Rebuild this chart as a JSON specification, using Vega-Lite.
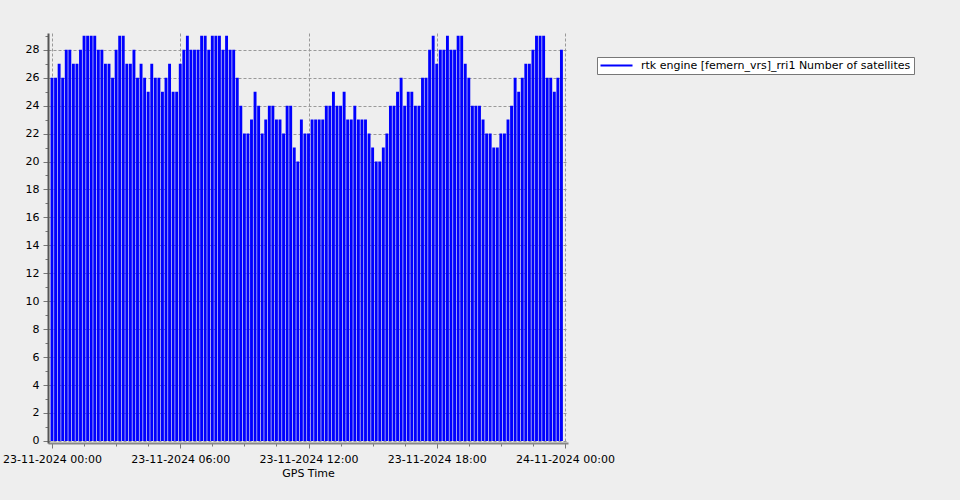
{
  "$schema": "https://vega.github.io/schema/vega-lite/v6.json",
  "width": 520,
  "height": 410,
  "autosize": {"type": "none"},
  "padding": {"left": 48, "top": 33, "right": 392, "bottom": 57},
  "background": "#eeeeee",
  "config": {"view": {"stroke": null}, "font": "DejaVu Sans"},
  "data": {"values": [
    {"t":"2024-11-23T00:00","n":26},{"t":"2024-11-23T00:10","n":26},{"t":"2024-11-23T00:20","n":27},{"t":"2024-11-23T00:30","n":26},{"t":"2024-11-23T00:40","n":28},{"t":"2024-11-23T00:50","n":28},
    {"t":"2024-11-23T01:00","n":27},{"t":"2024-11-23T01:10","n":27},{"t":"2024-11-23T01:20","n":28},{"t":"2024-11-23T01:30","n":29},{"t":"2024-11-23T01:40","n":29},{"t":"2024-11-23T01:50","n":29},
    {"t":"2024-11-23T02:00","n":29},{"t":"2024-11-23T02:10","n":28},{"t":"2024-11-23T02:20","n":28},{"t":"2024-11-23T02:30","n":27},{"t":"2024-11-23T02:40","n":27},{"t":"2024-11-23T02:50","n":26},
    {"t":"2024-11-23T03:00","n":28},{"t":"2024-11-23T03:10","n":29},{"t":"2024-11-23T03:20","n":29},{"t":"2024-11-23T03:30","n":27},{"t":"2024-11-23T03:40","n":27},{"t":"2024-11-23T03:50","n":28},
    {"t":"2024-11-23T04:00","n":26},{"t":"2024-11-23T04:10","n":27},{"t":"2024-11-23T04:20","n":26},{"t":"2024-11-23T04:30","n":25},{"t":"2024-11-23T04:40","n":27},{"t":"2024-11-23T04:50","n":26},
    {"t":"2024-11-23T05:00","n":26},{"t":"2024-11-23T05:10","n":25},{"t":"2024-11-23T05:20","n":26},{"t":"2024-11-23T05:30","n":27},{"t":"2024-11-23T05:40","n":25},{"t":"2024-11-23T05:50","n":25},
    {"t":"2024-11-23T06:00","n":27},{"t":"2024-11-23T06:10","n":28},{"t":"2024-11-23T06:20","n":29},{"t":"2024-11-23T06:30","n":28},{"t":"2024-11-23T06:40","n":28},{"t":"2024-11-23T06:50","n":28},
    {"t":"2024-11-23T07:00","n":29},{"t":"2024-11-23T07:10","n":29},{"t":"2024-11-23T07:20","n":28},{"t":"2024-11-23T07:30","n":29},{"t":"2024-11-23T07:40","n":29},{"t":"2024-11-23T07:50","n":29},
    {"t":"2024-11-23T08:00","n":28},{"t":"2024-11-23T08:10","n":29},{"t":"2024-11-23T08:20","n":28},{"t":"2024-11-23T08:30","n":28},{"t":"2024-11-23T08:40","n":26},{"t":"2024-11-23T08:50","n":24},
    {"t":"2024-11-23T09:00","n":22},{"t":"2024-11-23T09:10","n":22},{"t":"2024-11-23T09:20","n":23},{"t":"2024-11-23T09:30","n":25},{"t":"2024-11-23T09:40","n":24},{"t":"2024-11-23T09:50","n":22},
    {"t":"2024-11-23T10:00","n":23},{"t":"2024-11-23T10:10","n":24},{"t":"2024-11-23T10:20","n":24},{"t":"2024-11-23T10:30","n":23},{"t":"2024-11-23T10:40","n":23},{"t":"2024-11-23T10:50","n":22},
    {"t":"2024-11-23T11:00","n":24},{"t":"2024-11-23T11:10","n":24},{"t":"2024-11-23T11:20","n":21},{"t":"2024-11-23T11:30","n":20},{"t":"2024-11-23T11:40","n":23},{"t":"2024-11-23T11:50","n":22},
    {"t":"2024-11-23T12:00","n":22},{"t":"2024-11-23T12:10","n":23},{"t":"2024-11-23T12:20","n":23},{"t":"2024-11-23T12:30","n":23},{"t":"2024-11-23T12:40","n":23},{"t":"2024-11-23T12:50","n":24},
    {"t":"2024-11-23T13:00","n":24},{"t":"2024-11-23T13:10","n":25},{"t":"2024-11-23T13:20","n":24},{"t":"2024-11-23T13:30","n":24},{"t":"2024-11-23T13:40","n":25},{"t":"2024-11-23T13:50","n":23},
    {"t":"2024-11-23T14:00","n":23},{"t":"2024-11-23T14:10","n":24},{"t":"2024-11-23T14:20","n":23},{"t":"2024-11-23T14:30","n":23},{"t":"2024-11-23T14:40","n":23},{"t":"2024-11-23T14:50","n":22},
    {"t":"2024-11-23T15:00","n":21},{"t":"2024-11-23T15:10","n":20},{"t":"2024-11-23T15:20","n":20},{"t":"2024-11-23T15:30","n":21},{"t":"2024-11-23T15:40","n":22},{"t":"2024-11-23T15:50","n":24},
    {"t":"2024-11-23T16:00","n":24},{"t":"2024-11-23T16:10","n":25},{"t":"2024-11-23T16:20","n":26},{"t":"2024-11-23T16:30","n":24},{"t":"2024-11-23T16:40","n":25},{"t":"2024-11-23T16:50","n":25},
    {"t":"2024-11-23T17:00","n":24},{"t":"2024-11-23T17:10","n":24},{"t":"2024-11-23T17:20","n":26},{"t":"2024-11-23T17:30","n":26},{"t":"2024-11-23T17:40","n":28},{"t":"2024-11-23T17:50","n":29},
    {"t":"2024-11-23T18:00","n":27},{"t":"2024-11-23T18:10","n":28},{"t":"2024-11-23T18:20","n":28},{"t":"2024-11-23T18:30","n":29},{"t":"2024-11-23T18:40","n":28},{"t":"2024-11-23T18:50","n":28},
    {"t":"2024-11-23T19:00","n":29},{"t":"2024-11-23T19:10","n":29},{"t":"2024-11-23T19:20","n":27},{"t":"2024-11-23T19:30","n":26},{"t":"2024-11-23T19:40","n":24},{"t":"2024-11-23T19:50","n":24},
    {"t":"2024-11-23T20:00","n":24},{"t":"2024-11-23T20:10","n":23},{"t":"2024-11-23T20:20","n":22},{"t":"2024-11-23T20:30","n":22},{"t":"2024-11-23T20:40","n":21},{"t":"2024-11-23T20:50","n":21},
    {"t":"2024-11-23T21:00","n":22},{"t":"2024-11-23T21:10","n":22},{"t":"2024-11-23T21:20","n":23},{"t":"2024-11-23T21:30","n":24},{"t":"2024-11-23T21:40","n":26},{"t":"2024-11-23T21:50","n":25},
    {"t":"2024-11-23T22:00","n":26},{"t":"2024-11-23T22:10","n":27},{"t":"2024-11-23T22:20","n":27},{"t":"2024-11-23T22:30","n":28},{"t":"2024-11-23T22:40","n":29},{"t":"2024-11-23T22:50","n":29},
    {"t":"2024-11-23T23:00","n":29},{"t":"2024-11-23T23:10","n":26},{"t":"2024-11-23T23:20","n":26},{"t":"2024-11-23T23:30","n":25},{"t":"2024-11-23T23:40","n":26},{"t":"2024-11-23T23:50","n":28}
  ]},
  "mark": {"type": "bar", "width": 2.9},
  "encoding": {
    "x": {
      "field": "t", "type": "temporal",
      "scale": {"domain": [
        {"year": 2024, "month": 11, "date": 22, "hours": 23, "minutes": 48, "seconds": 46},
        {"year": 2024, "month": 11, "date": 24, "hours": 0, "minutes": 8, "seconds": 25}
      ], "nice": false, "padding": 0},
      "axis": {
        "title": "GPS Time",
        "values": [
          {"year": 2024, "month": 11, "date": 23, "hours": 0, "minutes": 0},
          {"year": 2024, "month": 11, "date": 23, "hours": 1, "minutes": 30},
          {"year": 2024, "month": 11, "date": 23, "hours": 3, "minutes": 0},
          {"year": 2024, "month": 11, "date": 23, "hours": 4, "minutes": 30},
          {"year": 2024, "month": 11, "date": 23, "hours": 6, "minutes": 0},
          {"year": 2024, "month": 11, "date": 23, "hours": 7, "minutes": 30},
          {"year": 2024, "month": 11, "date": 23, "hours": 9, "minutes": 0},
          {"year": 2024, "month": 11, "date": 23, "hours": 10, "minutes": 30},
          {"year": 2024, "month": 11, "date": 23, "hours": 12, "minutes": 0},
          {"year": 2024, "month": 11, "date": 23, "hours": 13, "minutes": 30},
          {"year": 2024, "month": 11, "date": 23, "hours": 15, "minutes": 0},
          {"year": 2024, "month": 11, "date": 23, "hours": 16, "minutes": 30},
          {"year": 2024, "month": 11, "date": 23, "hours": 18, "minutes": 0},
          {"year": 2024, "month": 11, "date": 23, "hours": 19, "minutes": 30},
          {"year": 2024, "month": 11, "date": 23, "hours": 21, "minutes": 0},
          {"year": 2024, "month": 11, "date": 23, "hours": 22, "minutes": 30},
          {"year": 2024, "month": 11, "date": 24, "hours": 0, "minutes": 0}
        ],
        "format": "%d-%m-%Y %H:%M",
        "labelExpr": "(hours(datum.value) % 6 == 0 && minutes(datum.value) == 0) ? datum.label : ''",
        "labelOverlap": false,
        "labelFlush": false,
        "labelFont": "DejaVu Sans",
        "labelFontSize": 11,
        "labelColor": "#000000",
        "labelPadding": 5,
        "tickSize": {"condition": {"test": "hours(datum.value) % 6 == 0 && minutes(datum.value) == 0", "value": 5}, "value": 3},
        "tickColor": "#777777",
        "grid": true,
        "gridDash": [3, 2],
        "gridColor": "#999999",
        "gridOpacity": {"condition": {"test": "hours(datum.value) % 6 == 0 && minutes(datum.value) == 0", "value": 1}, "value": 0},
        "domainColor": "#888888",
        "domainWidth": 2,
        "titleFont": "DejaVu Sans",
        "titleFontSize": 11,
        "titleFontWeight": "normal",
        "titleColor": "#000000",
        "titlePadding": 3
      }
    },
    "y": {
      "field": "n", "type": "quantitative",
      "scale": {"domain": [-0.15, 29.2], "nice": false, "zero": false},
      "axis": {
        "title": null,
        "values": [0,0.5,1,1.5,2,2.5,3,3.5,4,4.5,5,5.5,6,6.5,7,7.5,8,8.5,9,9.5,10,10.5,11,11.5,12,12.5,13,13.5,14,14.5,15,15.5,16,16.5,17,17.5,18,18.5,19,19.5,20,20.5,21,21.5,22,22.5,23,23.5,24,24.5,25,25.5,26,26.5,27,27.5,28,28.5,29],
        "format": "d",
        "labelExpr": "datum.value % 2 == 0 ? datum.label : ''",
        "labelOverlap": false,
        "labelFont": "DejaVu Sans",
        "labelFontSize": 11,
        "labelColor": "#000000",
        "labelPadding": 4,
        "tickSize": {"condition": {"test": "datum.value % 2 == 0", "value": 5}, "value": 3},
        "tickColor": "#777777",
        "grid": true,
        "gridDash": [3, 2],
        "gridColor": "#999999",
        "gridOpacity": {"condition": {"test": "datum.value % 2 == 0", "value": 1}, "value": 0},
        "domainColor": "#555555",
        "domainWidth": 2
      }
    },
    "color": {
      "datum": "rtk engine [femern_vrs]_rri1 Number of satellites",
      "scale": {"range": ["#0000ff"]},
      "legend": {
        "orient": "none",
        "legendX": 549,
        "legendY": 24,
        "title": null,
        "fillColor": "#ffffff",
        "strokeColor": "#777777",
        "padding": 3,
        "symbolType": "M-4,0H4",
        "symbolSize": 64,
        "symbolStrokeWidth": 2,
        "symbolStrokeColor": "#0000ff",
        "symbolOffset": 11,
        "labelOffset": 19,
        "labelLimit": 0,
        "labelFont": "DejaVu Sans",
        "labelFontSize": 11,
        "labelColor": "#000000"
      }
    }
  }
}
